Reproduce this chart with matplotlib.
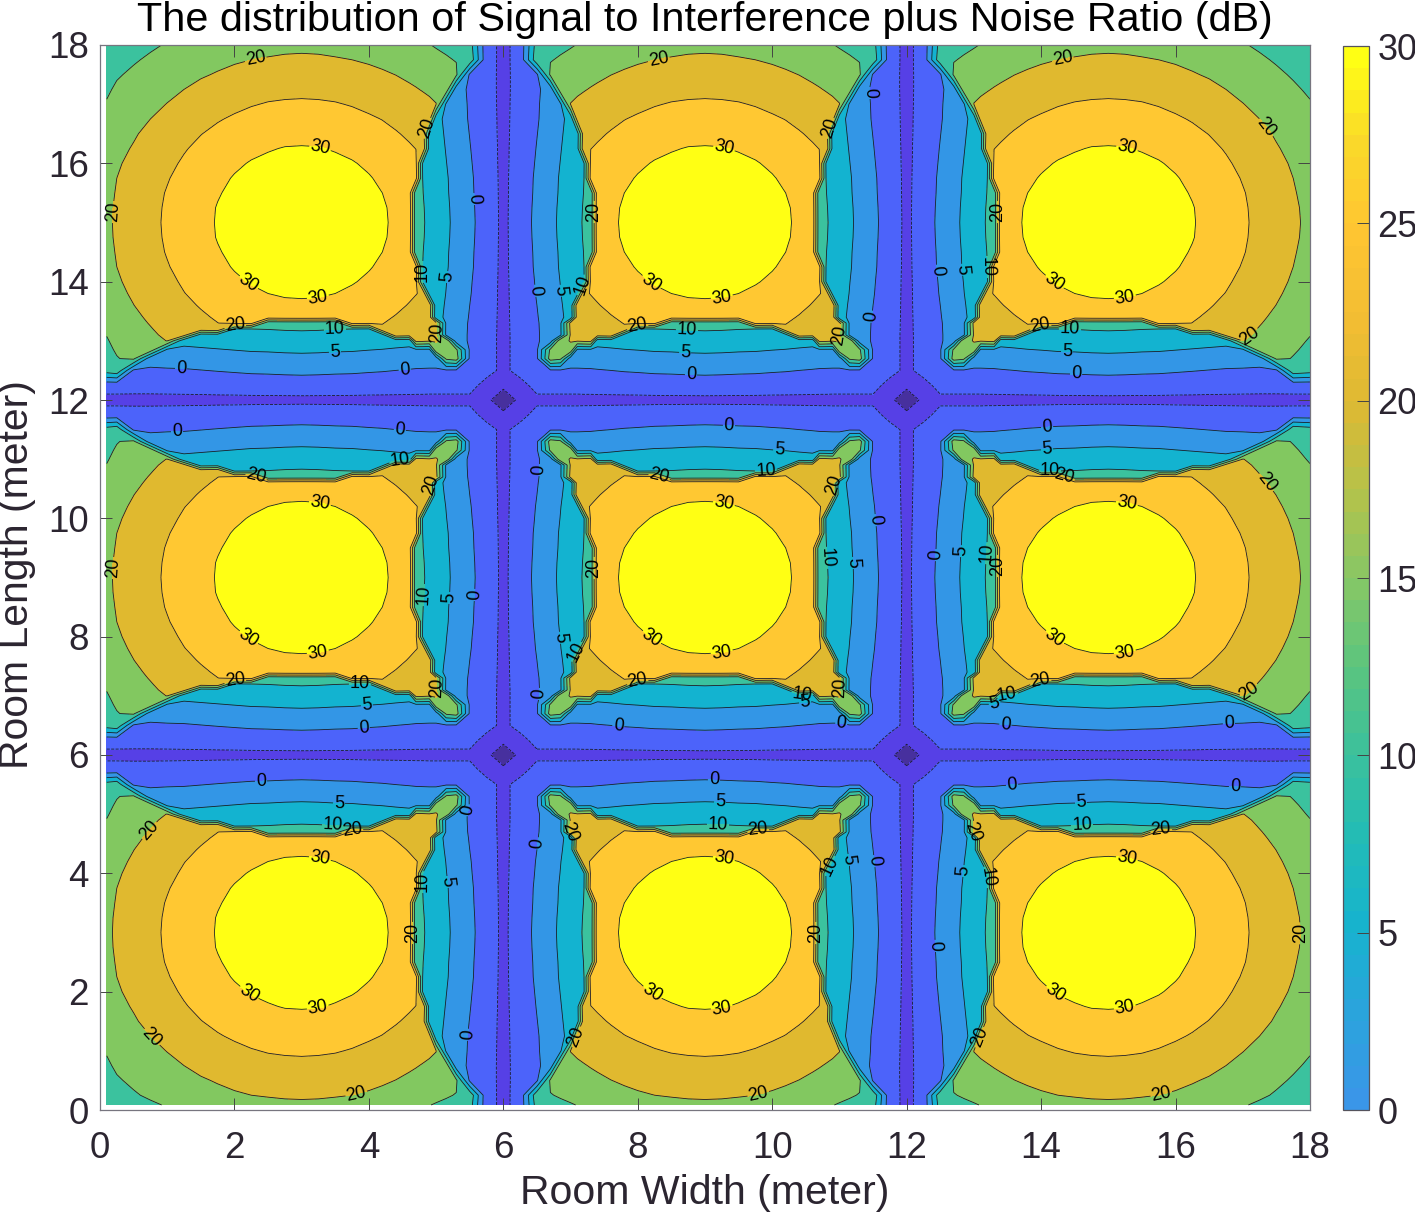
import numpy as np
import matplotlib
matplotlib.use("Agg")
import matplotlib.pyplot as plt
from matplotlib.colors import ListedColormap, BoundaryNorm, LinearSegmentedColormap, Normalize
from matplotlib.cm import ScalarMappable

plt.rcParams['font.family'] = ['Liberation Sans', 'DejaVu Sans']

# SINR (dB), for one quarter of a room.
# Distances (m) from an outer wall and from an inner wall at which values were read.
outer_dist = [0, .25, .5, .75, 1, 1.25, 1.5, 1.75, 2, 2.25, 2.5, 2.75, 3]
inner_dist = [0, .25, .5, .7, .85, 1, 1.1, 1.2, 1.3, 1.4, 1.6, 1.8, 2, 2.25, 2.5, 2.75, 3]

# Rows and columns: outer_dist
sinr_outer_outer = [
 [11.0,12.2,13.3,14.4,15.3,16.2,16.9,17.5,18.1,18.5,18.8,19.0,19.1],
 [12.2,13.4,14.6,15.6,16.6,17.4,18.2,19.0,19.5,20.0,20.3,20.6,20.7],
 [13.3,14.6,15.7,16.8,17.8,18.7,19.6,20.3,21.1,21.6,22.0,22.3,22.3],
 [14.4,15.6,16.8,18.0,19.0,20.0,21.0,21.8,22.6,23.2,23.7,23.9,24.0],
 [15.3,16.6,17.8,19.0,20.1,21.3,22.3,23.3,24.1,24.75,25.25,25.5,25.6],
 [16.2,17.4,18.7,20.0,21.3,22.5,23.7,24.7,25.5,26.25,26.75,27.05,27.2],
 [16.9,18.2,19.6,21.0,22.3,23.7,24.9,25.9,26.9,27.6,28.25,28.6,28.75],
 [17.5,19.0,20.3,21.8,23.3,24.7,25.9,27.05,28.1,29.0,29.7,30.2,30.3],
 [18.1,19.5,21.1,22.6,24.1,25.5,26.9,28.1,29.3,30.3,30.9,31.3,31.4],
 [18.5,20.0,21.6,23.2,24.75,26.25,27.6,29.0,30.3,31.2,31.8,32.2,32.3],
 [18.8,20.3,22.0,23.7,25.25,26.75,28.25,29.7,30.9,31.8,32.5,32.85,33.0],
 [19.0,20.6,22.3,23.9,25.5,27.05,28.6,30.2,31.3,32.2,32.85,33.2,33.4],
 [19.1,20.7,22.3,24.0,25.6,27.2,28.75,30.3,31.4,32.3,33.0,33.4,33.5],
]
# Rows and columns: inner_dist. The table is symmetric, so only the lower triangle is listed.
sinr_inner_inner = [
 [-14],
 [-8.5,-6.5],
 [-6,-3.5,-4.2],
 [-6,-3.5,-0.8,17.5],
 [-6,-3.5,-0.65,16,18.8],
 [-6,-3.5,-0.5,2.1,19.45,20.1],
 [-6,-3.5,-0.5,2.1,4.1,20.6,21.1],
 [-6,-3.4,-0.45,2.15,4.15,21.1,21.55,22],
 [-6,-3.4,-0.4,2.2,4.2,21.55,22,22.5,23],
 [-6,-3.3,-0.25,2.35,4.35,6.35,22.5,22.95,23.45,23.9],
 [-6,-3.2,0,2.6,4.6,6.6,23.3,23.8,24.35,24.8,25.75],
 [-6,-3.1,0.3,2.9,4.9,6.9,8.2,24.6,25.1,25.6,26.6,27.5],
 [-6,-3,0.5,3.1,5.1,7.1,8.4,9.7,25.8,26.3,27.4,28.4,29.3],
 [-6,-2.8,0.8,3.4,5.4,7.4,8.7,10,26.5,27.05,28.2,29.25,30.3,31.2],
 [-6,-2.7,0.9,3.5,5.5,7.5,8.8,10.1,11.4,27.6,28.8,30,30.9,31.8,32.5],
 [-6,-2.6,1.1,3.7,5.7,7.7,9,10.3,11.6,28,29.25,30.4,31.3,32.2,32.85,33.2],
 [-6,-2.5,1.2,3.8,5.8,7.8,9.1,10.4,11.7,28.1,29.35,30.5,31.4,32.3,33,33.4,33.5],
]
# Rows: outer_dist, columns: inner_dist
sinr_outer_inner = [
 [-6,-3.5,12.5,13.6,14.2,14.7,15.1,15.5,15.9,16.2,17.0,17.65,18.1,18.5,18.8,19,19.1],
 [-6,-3.5,13.8,14.8,15.4,16,16.6,17.1,17.5,17.9,18.6,19.1,19.5,20,20.3,20.6,20.7],
 [-6,-3.6,-0.8,15.9,16.6,17.4,18,18.5,18.95,19.25,19.95,20.5,21.1,21.6,22,22.3,22.3],
 [-6,-3.6,-0.7,1.9,18,18.8,19.45,19.8,20.2,20.6,21.35,22,22.6,23.2,23.65,23.9,24],
 [-6,-3.5,-0.5,2.1,4.1,20.1,20.6,21.1,21.55,21.9,22.7,23.45,24.1,24.75,25.25,25.5,25.6],
 [-6,-3.4,-0.4,2.2,4.2,6.2,21.8,22.3,22.7,23.2,24.1,24.9,25.5,26.25,26.75,27.05,27.2],
 [-6,-3.3,-0.1,2.5,4.5,6.5,7.8,23.4,23.9,24.4,25.3,26.1,26.9,27.6,28.25,28.6,28.75],
 [-6,-3.1,0.2,2.8,4.8,6.8,8.1,24.4,24.95,25.45,26.5,27.3,28.1,29,29.7,30.2,30.3],
 [-6,-3,0.5,3.1,5.1,7.1,8.4,9.7,25.8,26.3,27.4,28.4,29.3,30.3,30.9,31.3,31.4],
 [-6,-2.8,0.8,3.4,5.4,7.4,8.7,10,26.5,27.05,28.2,29.25,30.3,31.2,31.8,32.2,32.3],
 [-6,-2.7,0.9,3.5,5.5,7.5,8.8,10.1,11.4,27.6,28.8,30,30.9,31.8,32.5,32.85,33],
 [-6,-2.6,1.1,3.7,5.7,7.7,9,10.3,11.6,28,29.25,30.4,31.3,32.2,32.85,33.2,33.4],
 [-6,-2.5,1.2,3.8,5.8,7.8,9.1,10.4,11.7,28.1,29.35,30.5,31.4,32.3,33,33.4,33.5],
]

fill_levels = [-20, -10, -5, 0, 5, 10, 15, 20, 25, 30, 40]
plain_levels = [-10, -5, 15, 25]
band_colors = ['#47309E', '#5640E6', '#4C63FA', '#3396E6', '#13B3D0', '#3BC29E',
               '#82C860', '#E0B92F', '#FFC832', '#FFFF14']
bar_colors = ['#3A96E8', '#2AA4DC', '#17B3CE', '#22BCB6', '#3CC19B', '#5CC57E',
              '#87C765', '#B5C24A', '#DDB933', '#F3BD33', '#FFC532', '#FAD82A', '#FFFF14']
axis_ticks = [0, 2, 4, 6, 8, 10, 12, 14, 16, 18]
bar_ticks = [0, 5, 10, 15, 20, 25, 30]

# Where each contour label sits in the reference, in image pixels, per level
labels_30 = [(320,148),(247,285),(318,298),(724,148),(650,284),(722,298),(1127,148),(1053,284),(1125,298),
             (320,503),(247,640),(318,654),(724,503),(650,640),(722,654),(1127,503),(1053,640),(1125,654),
             (320,858),(247,996),(318,1009),(724,858),(650,996),(722,1009),(1127,858),(1053,996),(1125,1009)]
labels_20 = [(256,61),(659,61),(1063,61),(1263,130),(113,212),(152,1037),(356,1093),(758,1093),(1161,1093),
             (1296,933),(1263,485),(113,568),(151,832),(1248,334),(1248,690),(431,130),(834,130),(594,212),
             (996,212),(437,333),(235,327),(638,327),(1041,327),(840,335),(256,477),(659,477),(1064,477),
             (431,485),(834,485),(594,568),(996,566),(235,682),(437,688),(638,682),(1041,682),(840,688),
             (352,828),(758,831),(1161,831),(412,933),(815,933),(572,1035),(974,1035),(970,832),(567,835)]
labels_10 = [(335,330),(687,330),(1070,330),(421,272),(580,284),(985,267),(360,686),(802,694),(1007,694),
             (333,826),(718,825),(1082,826),(766,470),(1050,470),(423,595),(577,652),(825,558),(985,553),
             (422,882),(830,866),(985,877),(400,461)]
labels_5 = [(447,277),(558,291),(960,270),(335,353),(685,354),(1067,353),(367,707),(805,702),(994,702),
            (339,803),(720,802),(1081,803),(779,452),(1047,450),(450,598),(557,638),(852,563),(960,551),
            (447,882),(848,860),(963,871)]
labels_0 = [(474,199),(532,291),(934,271),(181,371),(405,373),(691,376),(1076,376),(364,731),(618,729),
            (1005,729),(1229,727),(261,781),(714,779),(1012,784),(1235,786),(177,430),(400,428),(729,425),
            (1047,426),(475,595),(537,470),(934,555),(877,520),(875,317),(869,93),(470,1035),(535,843),
            (875,861),(932,946),(467,810),(537,694),(841,725)]
label_sets = {30: labels_30, 20: labels_20, 10: labels_10, 5: labels_5, 0: labels_0}

outer_outer = np.array(sinr_outer_outer, float)
outer_inner = np.array(sinr_outer_inner, float)
inner_inner = np.zeros((len(inner_dist), len(inner_dist)))
for r, row in enumerate(sinr_inner_inner):
    for c, v in enumerate(row):
        inner_inner[r, c] = inner_inner[c, r] = v

# Lay the quarter-room tables out over the whole 18 m x 18 m hall.
n_o, n_i = len(outer_dist), len(inner_dist)
nodes = []  # (position, is_outer, table index)
nodes += [(outer_dist[k], True, k) for k in range(n_o - 1)]
nodes += [(6 - inner_dist[k], False, k) for k in range(n_i - 1, -1, -1)]
nodes += [(6 + inner_dist[k], False, k) for k in range(1, n_i)]
nodes += [(12 - inner_dist[k], False, k) for k in range(n_i - 2, -1, -1)]
nodes += [(12 + inner_dist[k], False, k) for k in range(1, n_i)]
nodes += [(18 - outer_dist[k], True, k) for k in range(n_o - 2, -1, -1)]

n_side = len(nodes)
Z = np.zeros((n_side, n_side))
for j, (_, y_outer, b) in enumerate(nodes):
    for i, (_, x_outer, a) in enumerate(nodes):
        if x_outer and y_outer:
            Z[j, i] = outer_outer[b, a]
        elif y_outer:
            Z[j, i] = outer_inner[b, a]
        elif x_outer:
            Z[j, i] = outer_inner[a, b]
        else:
            Z[j, i] = inner_inner[b, a]

xs = np.array([n[0] for n in nodes], float)
ys = xs.copy()
xs[0] = 0.1
ys[0] = 0.085

W, H = 1415, 1214
L, R, T, B = 100, 1310, 45, 1110
fig = plt.figure(figsize=(W / 100, H / 100), dpi=100)
ax = fig.add_axes([L / W, (H - B) / H, (R - L) / W, (B - T) / H])

ax.contourf(xs, ys, Z, levels=fill_levels, cmap=ListedColormap(band_colors),
            norm=BoundaryNorm(fill_levels, len(band_colors)))
line_color = '#1c1c2a'
ax.contour(xs, ys, Z, levels=plain_levels, colors=line_color, linewidths=0.6)
ax.set_xlim(0, 18)
ax.set_ylim(0, 18)

for level, spots in label_sets.items():
    cs = ax.contour(xs, ys, Z, levels=[level], colors=line_color, linewidths=0.6)
    spots_data = [((px - L) / (R - L) * 18, (B - py) / (B - T) * 18) for px, py in spots]
    cs.clabel(manual=spots_data, inline=True, inline_spacing=1,
              fontsize=13, fmt='%d', colors='black')

text_color = '#2b2530'
ax.set_xticks(axis_ticks)
ax.set_yticks(axis_ticks)
ax.tick_params(direction='in', length=8.5, width=0.7, top=True, right=True, color='#444444',
               labelsize=26.5, labelcolor=text_color, pad=8)
ax.tick_params(axis='x', pad=15)
for s in ax.spines.values():
    s.set_color('#77757f')
    s.set_linewidth(0.9)

fig.text(705 / W, 1 - 20 / H, 'The distribution of Signal to Interference plus Noise Ratio (dB)',
         ha='center', va='center', fontsize=29.8, color='black')
fig.text(705 / W, 1 - 1193 / H, 'Room Width (meter)', ha='center', va='center',
         fontsize=29.5, color=text_color)
fig.text(17 / W, 1 - 575 / H, 'Room Length (meter)', ha='center', va='center',
         rotation=90, fontsize=29.4, color=text_color)

cax = fig.add_axes([1343 / W, (H - 1110) / H, 26 / W, 1064 / H])
bar_cmap = LinearSegmentedColormap.from_list('bar', bar_colors, N=48)
cb = fig.colorbar(ScalarMappable(norm=Normalize(0, 30), cmap=bar_cmap), cax=cax)
cb.set_ticks(bar_ticks)
cb.ax.tick_params(direction='in', length=8.5, width=0.7, color='#444444',
                  labelsize=26, labelcolor=text_color, pad=6)
cb.outline.set_edgecolor('#55535c')
cb.outline.set_linewidth(0.9)

fig.savefig('out.png', dpi=100)
